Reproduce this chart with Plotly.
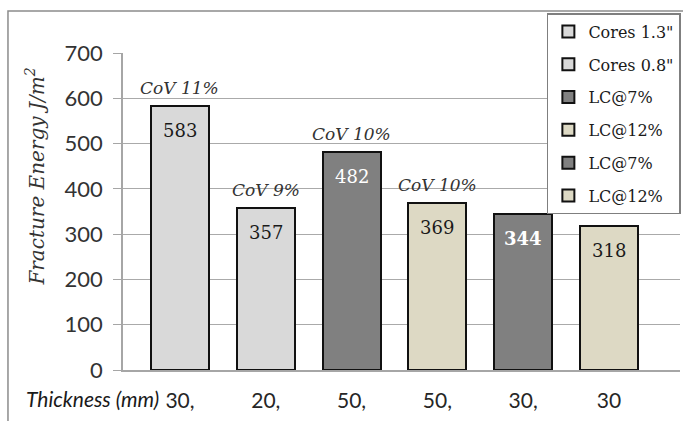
import plotly.graph_objects as go

# Fracture energy by specimen group
series_names = ['Cores 1.3"', 'Cores 0.8"', "LC@7%", "LC@12%", "LC@7%", "LC@12%"]
energy = [583, 357, 482, 369, 344, 318]
cov_labels = ["CoV 11%", "CoV 9%", "CoV 10%", "CoV 10%", "", ""]
thickness_labels = ["30,", "20,", "50,", "50,", "30,", "30"]
fill_colors = ["#d9d9d9", "#d9d9d9", "#808080", "#ddd9c4", "#808080", "#ddd9c4"]
value_colors = ["#1a1a1a", "#1a1a1a", "#ffffff", "#1a1a1a", "#ffffff", "#1a1a1a"]
value_bold = [False, False, False, False, True, False]
y_ticks = [0, 100, 200, 300, 400, 500, 600, 700]

SERIF = "DejaVu Serif"
SANS = "Lato"

fig = go.Figure()
for i, (name, val, col) in enumerate(zip(series_names, energy, fill_colors)):
    fig.add_trace(go.Bar(
        x=[i], y=[val], name=name, width=0.676,
        marker=dict(color=col, line=dict(color="#111111", width=2)),
        legendgroup=f"g{i}", hoverinfo="y",
    ))

annotations = []
for i, val in enumerate(energy):
    txt = f"<b>{val}</b>" if value_bold[i] else str(val)
    annotations.append(dict(
        x=i, y=val, xref="x", yref="y", text=txt, showarrow=False,
        yanchor="top", yshift=-12,
        font=dict(family=SERIF, size=18, color=value_colors[i]),
    ))
    if cov_labels[i]:
        annotations.append(dict(
            x=i, y=val, xref="x", yref="y", text=f"<i>{cov_labels[i]}</i>",
            showarrow=False, yanchor="bottom", yshift=6,
            font=dict(family=SERIF, size=17, color="#333333"),
        ))

annotations.append(dict(
    x=0.068, y=-0.09, xref="paper", yref="paper", text="<i>Thickness (mm)</i>",
    showarrow=False, xanchor="right", yanchor="middle",
    font=dict(family=SANS, size=21, color="#1a1a1a"),
))
annotations.append(dict(
    x=-0.158, y=0.61, xref="paper", yref="paper",
    text="<i>Fracture Energy J/m<sup>2</sup></i>",
    showarrow=False, textangle=-90, xanchor="center", yanchor="middle",
    font=dict(family=SERIF, size=20, color="#333333"),
))

fig.update_layout(
    width=683, height=421,
    margin=dict(l=123, r=3, t=53, b=51, autoexpand=False),
    paper_bgcolor="white", plot_bgcolor="white",
    barmode="overlay", bargap=0,
    annotations=annotations,
    shapes=[dict(
        type="rect", xref="paper", yref="paper",
        x0=-0.2065, x1=1.2, y0=-0.3, y1=1.1325,
        line=dict(color="#8c8c8c", width=1.5), layer="below",
    )],
    legend=dict(
        x=0.761, y=1.126, xanchor="left", yanchor="top",
        bgcolor="white", bordercolor="#7f7f7f", borderwidth=1.5,
        font=dict(family=SERIF, size=16, color="#1a1a1a"),
        tracegroupgap=9, itemclick=False,
    ),
    showlegend=True,
)

fig.update_xaxes(
    range=[-0.664, 5.828], tickvals=list(range(len(energy))), ticktext=thickness_labels,
    showgrid=False, zeroline=False, showline=True, linecolor="#a6a6a6", linewidth=1.5,
    ticks="", ticklabelstandoff=11,
    tickfont=dict(family=SANS, size=21, color="#262626"),
)
fig.update_yaxes(
    range=[0, 700], tickvals=y_ticks,
    showgrid=True, gridcolor="#aaaaaa", gridwidth=1.2, zeroline=False,
    showline=True, linecolor="#a6a6a6", linewidth=1.5,
    ticks="outside", ticklen=8, tickcolor="#a6a6a6", tickwidth=1.2,
    ticklabelstandoff=6,
    tickfont=dict(family=SANS, size=22, color="#333333"),
)

fig.write_html("out.html")
